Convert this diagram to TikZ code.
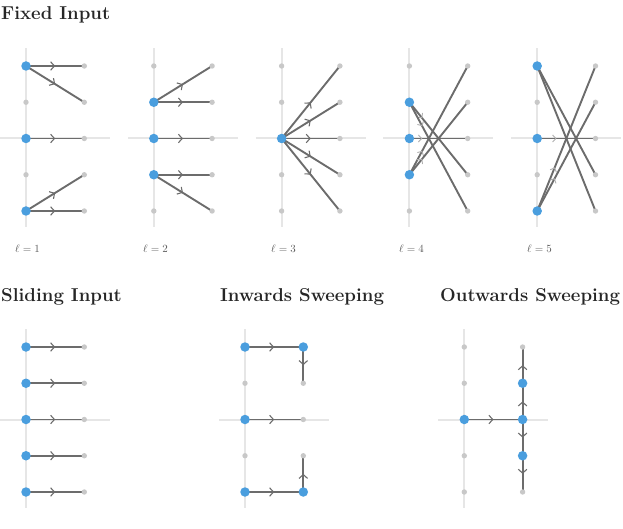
\documentclass[tikz,border=0pt]{standalone}
\usetikzlibrary{arrows.meta,decorations.markings}
\definecolor{blueD}{RGB}{74,158,222}
\definecolor{grayD}{RGB}{200,200,200}
\definecolor{edgeC}{RGB}{108,108,108}
\definecolor{gridC}{RGB}{230,230,230}
\pgfdeclarelayer{gridlayer}
\pgfdeclarelayer{edgelayer}
\pgfsetlayers{gridlayer,edgelayer,main}
\tikzset{
 gdot/.style={circle, fill=grayD, inner sep=0pt, minimum size=5.4pt},
 bdot/.style={circle, fill=blueD, inner sep=0pt, minimum size=9.5pt},
 gridline/.style={draw=gridC, line width=2pt},
 conn/.style={draw=edgeC, line width=1.9pt, postaction={decorate},
   decoration={markings, mark=at position #1 with {\arrow{Straight Barb[length=3.8pt,width=8.5pt,line width=1.1pt,color=edgeC]}}}},
 conn/.default=0.5,
 fconn/.style={draw=edgeC, line width=1.9pt, postaction={decorate},
   decoration={markings, mark=at position #1 with {\arrow{Straight Barb[length=3.2pt,width=7pt,line width=0.9pt,color=edgeC!55]}}}},
 plainconn/.style={draw=edgeC, line width=1.9pt},
 title/.style={anchor=base west, inner sep=0pt, font=\fontsize{18.6}{22}\selectfont\bfseries, text=black!85},
 lab/.style={anchor=base west, inner sep=0pt, font=\fontsize{11}{13}\selectfont, text=black!65},
}
\newcommand\gridpanel[3]{%
 \begin{pgfonlayer}{gridlayer}
 \draw[gridline] (#2-26, #3+2*36.25) -- (#2+84, #3+2*36.25);
 \draw[gridline] (#2, #3-18) -- (#2, #3+4*36.25+16);
 \end{pgfonlayer}
 \foreach \r in {0,...,4} {
   \node[gdot] (#1L\r) at (#2, #3+\r*36.25) {};
   \node[gdot] (#1R\r) at (#2+58.3, #3+\r*36.25) {};
 }%
}
\newcommand\bluedots[2]{%
 \foreach \n in {#2} { \node[bdot] (#1\n) at (#1\n) {}; }%
}
\begin{document}
\begin{tikzpicture}[x=1pt,y=-1pt]
\useasboundingbox (0,0) rectangle (623,529);
% titles
\node[title] (t1) at (1,19.5) {Fixed Input};
\node[title] (t2) at (1,301.5) {Sliding Input};
\node[title] (t3) at (220,301.5) {Inwards Sweeping};
\node[title] (t4) at (440,301.5) {Outwards Sweeping};
% fixed input panels
\gridpanel{a}{26}{66}
\gridpanel{b}{153.8}{66}
\gridpanel{c}{281.6}{66}
\gridpanel{d}{409.4}{66}
\gridpanel{e}{537.2}{66}
\bluedots{a}{L0,L2,L4}
\bluedots{b}{L1,L2,L3}
\bluedots{c}{L2}
\bluedots{d}{L1,L2,L3}
\bluedots{e}{L0,L2,L4}
\node[lab] (l1) at (15,252) {$\ell = 1$};
\node[lab] (l2) at (143,252) {$\ell = 2$};
\node[lab] (l3) at (271,252) {$\ell = 3$};
\node[lab] (l4) at (399,252) {$\ell = 4$};
\node[lab] (l5) at (527,252) {$\ell = 5$};
% bottom panels
\gridpanel{s}{26}{347}
\gridpanel{w}{245}{347}
\gridpanel{o}{464.3}{347}
\bluedots{s}{L0,L1,L2,L3,L4}
\bluedots{w}{L0,L2,L4,R0,R4}
\bluedots{o}{L2,R1,R2,R3}
\begin{pgfonlayer}{edgelayer}
% l=1
\draw[conn] (aL0.center) -- (aR0.center);
\draw[conn] (aL0.center) -- (aR1.center);
\draw[conn] (aL2.center) -- (aR2.center);
\draw[conn] (aL4.center) -- (aR3.center);
\draw[conn] (aL4.center) -- (aR4.center);
% l=2
\draw[conn] (bL1.center) -- (bR0.center);
\draw[conn] (bL1.center) -- (bR1.center);
\draw[conn] (bL2.center) -- (bR2.center);
\draw[conn] (bL3.center) -- (bR3.center);
\draw[conn] (bL3.center) -- (bR4.center);
% l=3
\foreach \r in {0,...,4} { \draw[conn] (cL2.center) -- (cR\r.center); }
% l=4
\draw[fconn=0.22] (dL1.center) -- (dR3.center);
\draw[fconn=0.22] (dL1.center) -- (dR4.center);
\draw[fconn=0.22] (dL2.center) -- (dR2.center);
\draw[fconn=0.22] (dL3.center) -- (dR0.center);
\draw[fconn=0.22] (dL3.center) -- (dR1.center);
% l=5
\draw[plainconn] (eL0.center) -- (eR3.center);
\draw[plainconn] (eL0.center) -- (eR4.center);
\draw[fconn=0.33] (eL2.center) -- (eR2.center);
\draw[fconn=0.3] (eL4.center) -- (eR0.center);
\draw[fconn=0.3] (eL4.center) -- (eR1.center);
% sliding
\foreach \r in {0,...,4} { \draw[conn] (sL\r.center) -- (sR\r.center); }
% inwards
\draw[conn] (wL0.center) -- (wR0.center);
\draw[conn] (wR0.center) -- (wR1.center);
\draw[conn] (wL2.center) -- (wR2.center);
\draw[conn] (wL4.center) -- (wR4.center);
\draw[conn] (wR4.center) -- (wR3.center);
% outwards
\draw[conn] (oL2.center) -- (oR2.center);
\draw[conn] (oR2.center) -- (oR1.center);
\draw[conn] (oR1.center) -- (oR0.center);
\draw[conn] (oR2.center) -- (oR3.center);
\draw[conn] (oR3.center) -- (oR4.center);
\end{pgfonlayer}
\end{tikzpicture}
\end{document}
